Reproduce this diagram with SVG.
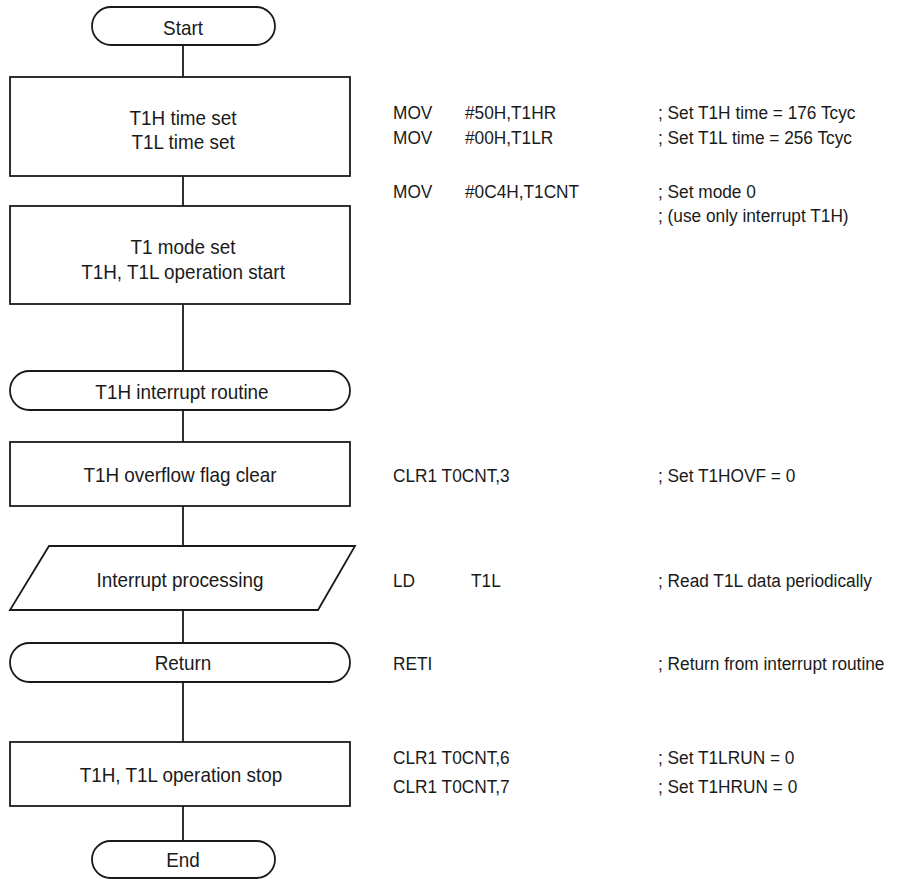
<svg xmlns="http://www.w3.org/2000/svg" width="911" height="879" viewBox="0 0 911 879">
<style>
.s{fill:#fff;stroke:#1a1a1a;stroke-width:1.8}
.c{fill:none;stroke:#1a1a1a;stroke-width:1.8}
text{font-family:"Liberation Sans",Arial,sans-serif;font-size:18px;fill:#1a1a1a;transform-box:fill-box;transform-origin:0 50%;transform:scaleX(.96)}
text.m{font-size:21px;text-anchor:middle;transform-origin:50% 50%;transform:scaleX(.9)}
</style>
<rect width="911" height="879" fill="#fff"/>
<g id="connectors">
<path class="c" d="M183 45V77M183 176V206M183 304V371M183 410V442M183 506V546M183 610V643M183 682V742M183 806V841"/>
</g>
<g id="start"><rect class="s" x="92" y="7" width="183" height="38" rx="19"/><text class="m" x="183" y="35">Start</text></g>
<g id="timeset"><rect class="s" x="10" y="77" width="340" height="99"/><text class="m" x="183" y="125">T1H time set</text><text class="m" x="183" y="149">T1L time set</text></g>
<g id="modeset"><rect class="s" x="10" y="206" width="340" height="98"/><text class="m" x="183" y="254">T1 mode set</text><text class="m" x="183" y="279">T1H, T1L operation start</text></g>
<g id="interrupt"><rect class="s" x="10" y="371" width="340" height="39" rx="19.5"/><text class="m" x="182" y="399">T1H interrupt routine</text></g>
<g id="flagclear"><rect class="s" x="10" y="442" width="340" height="64"/><text class="m" x="180" y="482">T1H overflow flag clear</text></g>
<g id="processing"><polygon class="s" points="49,546 355,546 318,610 10,610"/><text class="m" x="180" y="587">Interrupt processing</text></g>
<g id="return"><rect class="s" x="10" y="643" width="340" height="39" rx="19.5"/><text class="m" x="183" y="670">Return</text></g>
<g id="stop"><rect class="s" x="10" y="742" width="340" height="64"/><text class="m" x="181" y="782">T1H, T1L operation stop</text></g>
<g id="end"><rect class="s" x="92" y="841" width="183" height="37" rx="18.5"/><text class="m" x="183" y="867">End</text></g>
<g id="code">
<text x="393" y="119">MOV</text><text x="465" y="119">#50H,T1HR</text><text x="658" y="119">; Set T1H time = 176 Tcyc</text>
<text x="393" y="144">MOV</text><text x="465" y="144">#00H,T1LR</text><text x="658" y="144">; Set T1L time = 256 Tcyc</text>
<text x="393" y="198">MOV</text><text x="465" y="198">#0C4H,T1CNT</text><text x="658" y="198">; Set mode 0</text>
<text x="658" y="222">; (use only interrupt T1H)</text>
<text x="393" y="482">CLR1 T0CNT,3</text><text x="658" y="482">; Set T1HOVF = 0</text>
<text x="393" y="587">LD</text><text x="471" y="587">T1L</text><text x="658" y="587">; Read T1L data periodically</text>
<text x="393" y="670">RETI</text><text x="658" y="670">; Return from interrupt routine</text>
<text x="393" y="764">CLR1 T0CNT,6</text><text x="658" y="764">; Set T1LRUN = 0</text>
<text x="393" y="793">CLR1 T0CNT,7</text><text x="658" y="793">; Set T1HRUN = 0</text>
</g>
</svg>
